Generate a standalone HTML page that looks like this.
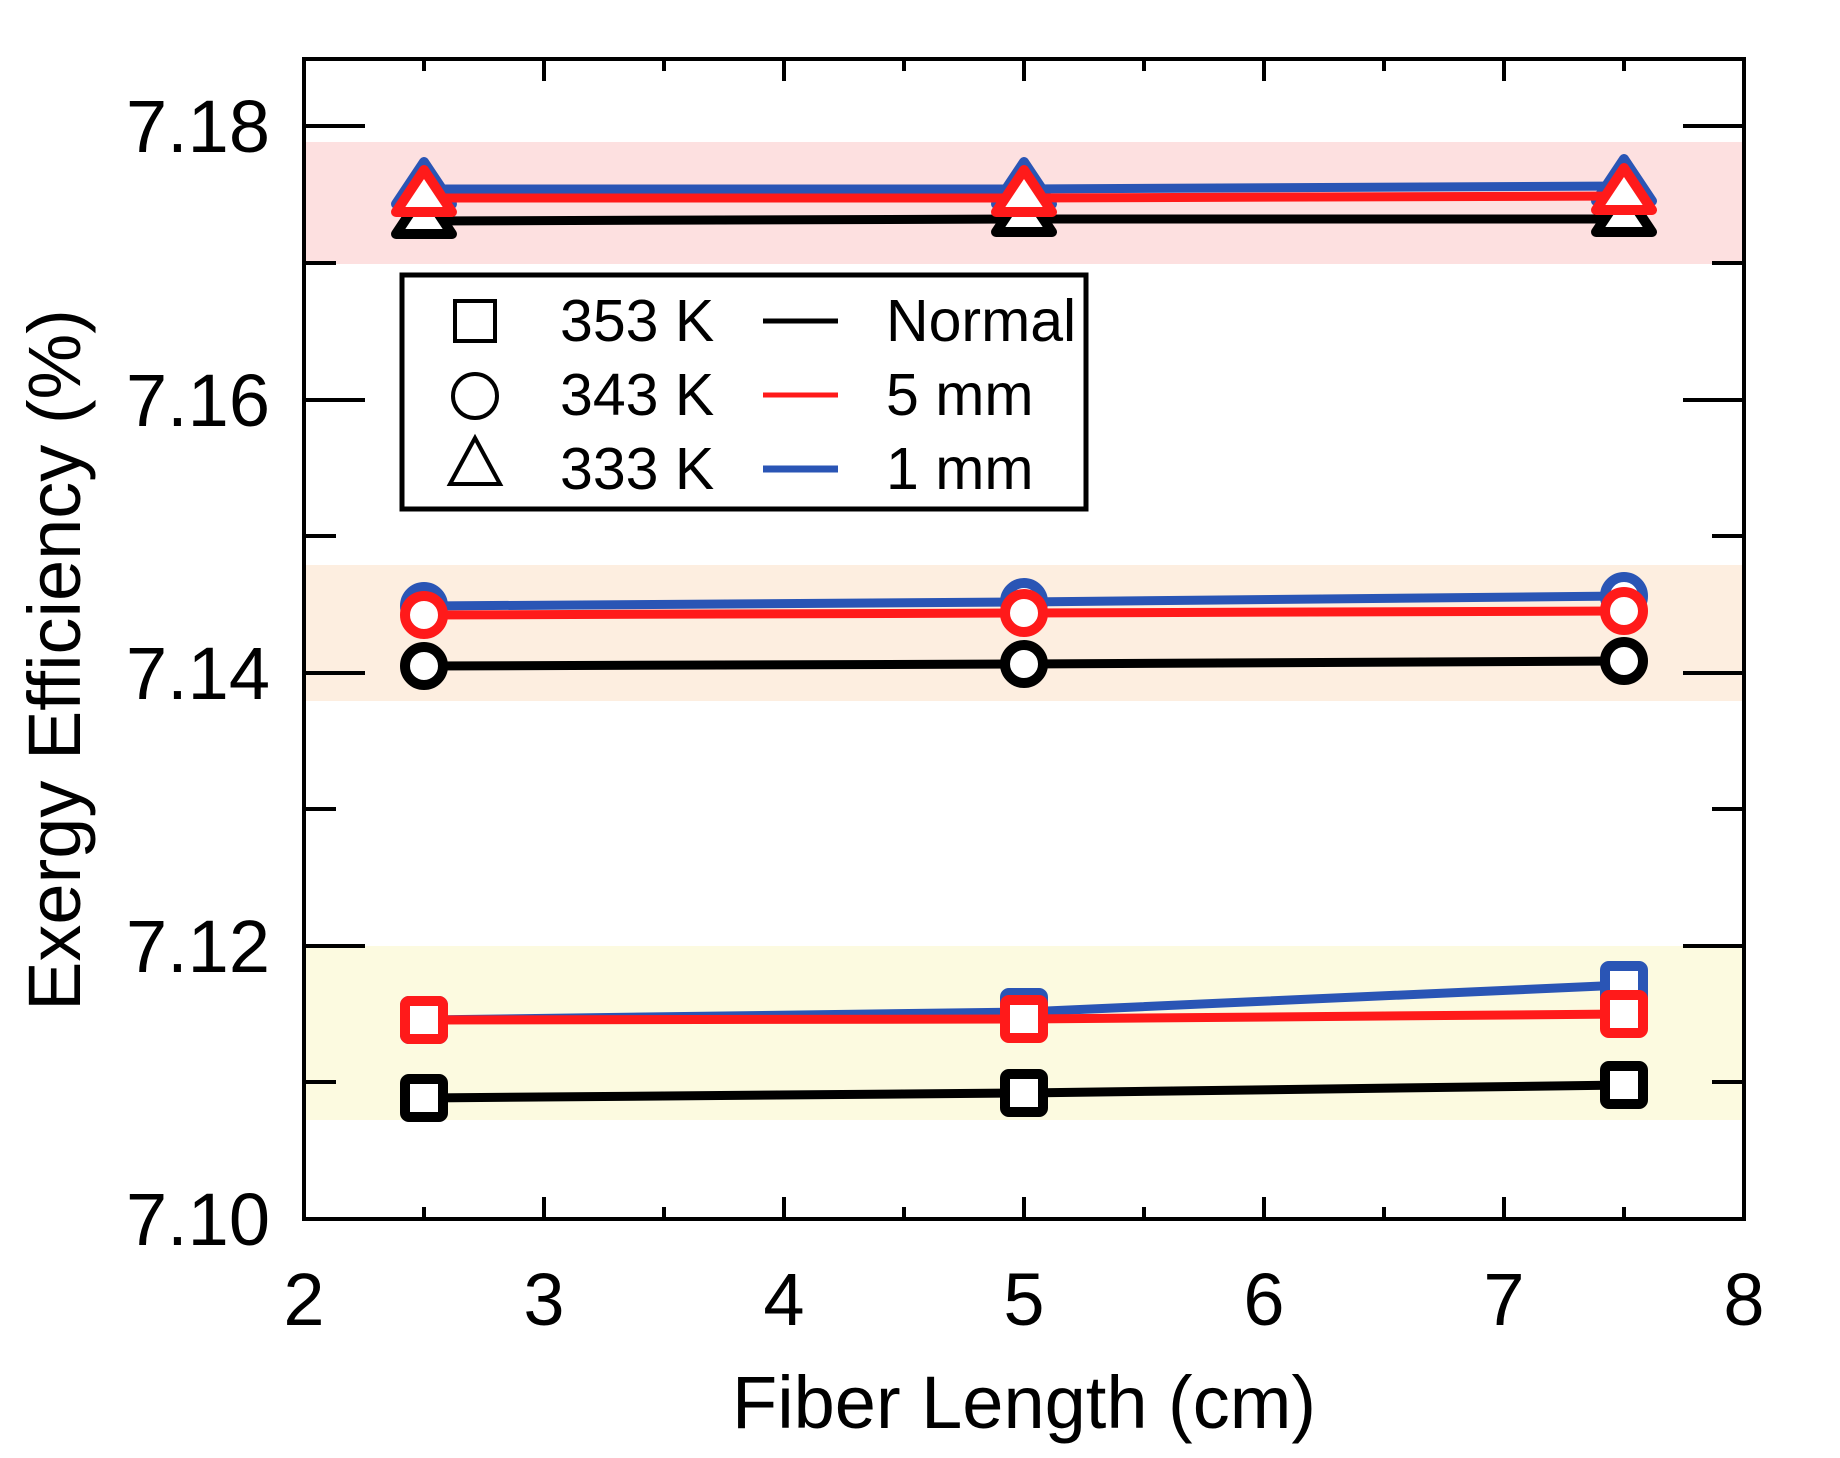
<!DOCTYPE html>
<html><head><style>html,body{margin:0;padding:0;background:#fff}svg{display:block}</style></head>
<body>
<svg width="1840" height="1458" viewBox="0 0 1840 1458" xmlns="http://www.w3.org/2000/svg" font-family="Liberation Sans, Arial, sans-serif">
<rect width="1840" height="1458" fill="#fff"/>
<rect x="306" y="142" width="1436" height="122" fill="#fde0e0"/>
<rect x="306" y="565" width="1436" height="136" fill="#fdeee0"/>
<rect x="306" y="946" width="1436" height="174" fill="#fcfae0"/>
<g stroke="#000" stroke-width="4" fill="none">
<rect x="304" y="59" width="1440" height="1160"/>
<path d="M304 126h61M304 400h61M304 673h61M304 946h61M304 263h32M304 536h32M304 809h32M304 1082h32"/>
<path d="M1744 126h-61M1744 400h-61M1744 673h-61M1744 946h-61M1744 263h-32M1744 536h-32M1744 809h-32M1744 1082h-32"/>
<path d="M544 1219v-22M784 1219v-22M1024 1219v-22M1264 1219v-22M1504 1219v-22M424 1219v-12M664 1219v-12M904 1219v-12M1144 1219v-12M1384 1219v-12M1624 1219v-12"/>
<path d="M544 59v22M784 59v22M1024 59v22M1264 59v22M1504 59v22M424 59v12M664 59v12M904 59v12M1144 59v12M1384 59v12M1624 59v12"/>
</g>
<g font-size="74" fill="#000" text-anchor="end">
<text x="270" y="152">7.18</text><text x="270" y="426">7.16</text><text x="270" y="699">7.14</text><text x="270" y="972">7.12</text><text x="270" y="1245">7.10</text>
</g>
<g font-size="74" fill="#000" text-anchor="middle">
<text x="304" y="1325">2</text><text x="544" y="1325">3</text><text x="784" y="1325">4</text><text x="1024" y="1325">5</text><text x="1264" y="1325">6</text><text x="1504" y="1325">7</text><text x="1744" y="1325">8</text>
<text x="1024" y="1428">Fiber Length (cm)</text>
<text transform="translate(80,660) rotate(-90)">Exergy Efficiency (%)</text>
</g>
<g fill="none" stroke-linejoin="round">
<g stroke="#000">
<polyline points="424,221 1024,219 1624,219" stroke-width="9"/>
<polyline points="424,666 1024,664 1624,661" stroke-width="9"/>
<polyline points="424,1098 1024,1093 1624,1085" stroke-width="9"/>
<g stroke-width="10" fill="#fff">
<path d="M424 192L452 234H396Z"/><path d="M1024 190L1052 232H996Z"/><path d="M1624 190L1652 232H1596Z"/>
<circle cx="424" cy="666" r="19"/><circle cx="1024" cy="664" r="19"/><circle cx="1624" cy="661" r="19"/>
<rect x="405" y="1079" width="38" height="38" rx="4"/><rect x="1005" y="1074" width="38" height="38" rx="4"/><rect x="1605" y="1066" width="38" height="38" rx="4"/>
</g></g>
<g stroke="#2a55b5">
<polyline points="424,189 1024,189 1624,186" stroke-width="9"/>
<polyline points="424,606 1024,602 1624,596" stroke-width="9"/>
<polyline points="424,1020 1024,1012 1624,985" stroke-width="9"/>
<g stroke-width="10" fill="#fff">
<path d="M424 162L452 204H396Z"/><path d="M1024 162L1052 204H996Z"/><path d="M1624 159L1652 201H1596Z"/>
<circle cx="424" cy="606" r="19"/><circle cx="1024" cy="602" r="19"/><circle cx="1624" cy="596" r="19"/>
<rect x="405" y="1001" width="38" height="38" rx="4"/><rect x="1005" y="993" width="38" height="38" rx="4"/><rect x="1605" y="966" width="38" height="38" rx="4"/>
</g></g>
<g stroke="#ff1a1a">
<polyline points="424,198 1024,198 1624,196" stroke-width="9"/>
<polyline points="424,615 1024,613 1624,611" stroke-width="9"/>
<polyline points="424,1020 1024,1019 1624,1014" stroke-width="9"/>
<g stroke-width="10" fill="#fff">
<path d="M424 170L452 212H396Z"/><path d="M1024 170L1052 212H996Z"/><path d="M1624 168L1652 210H1596Z"/>
<circle cx="424" cy="615" r="19"/><circle cx="1024" cy="613" r="19"/><circle cx="1624" cy="611" r="19"/>
<rect x="405" y="1001" width="38" height="38" rx="4"/><rect x="1005" y="1000" width="38" height="38" rx="4"/><rect x="1605" y="995" width="38" height="38" rx="4"/>
</g></g>
</g>
<rect x="402" y="275" width="684" height="234" fill="#fff" stroke="#000" stroke-width="5"/>
<g fill="none" stroke="#000" stroke-width="4">
<rect x="455" y="301" width="40" height="40"/>
<circle cx="475" cy="396" r="22"/>
<path d="M475 438L500 484H450Z"/>
</g>
<path d="M763 321h75" stroke="#000" stroke-width="5"/>
<path d="M763 395h75" stroke="#ff1a1a" stroke-width="5"/>
<path d="M763 469h75" stroke="#2a55b5" stroke-width="7"/>
<g font-size="59" fill="#000">
<text x="560" y="341">353 K</text><text x="560" y="415">343 K</text><text x="560" y="489">333 K</text>
<text x="886" y="341">Normal</text><text x="886" y="415">5 mm</text><text x="886" y="489">1 mm</text>
</g>
</svg>
</body></html>
